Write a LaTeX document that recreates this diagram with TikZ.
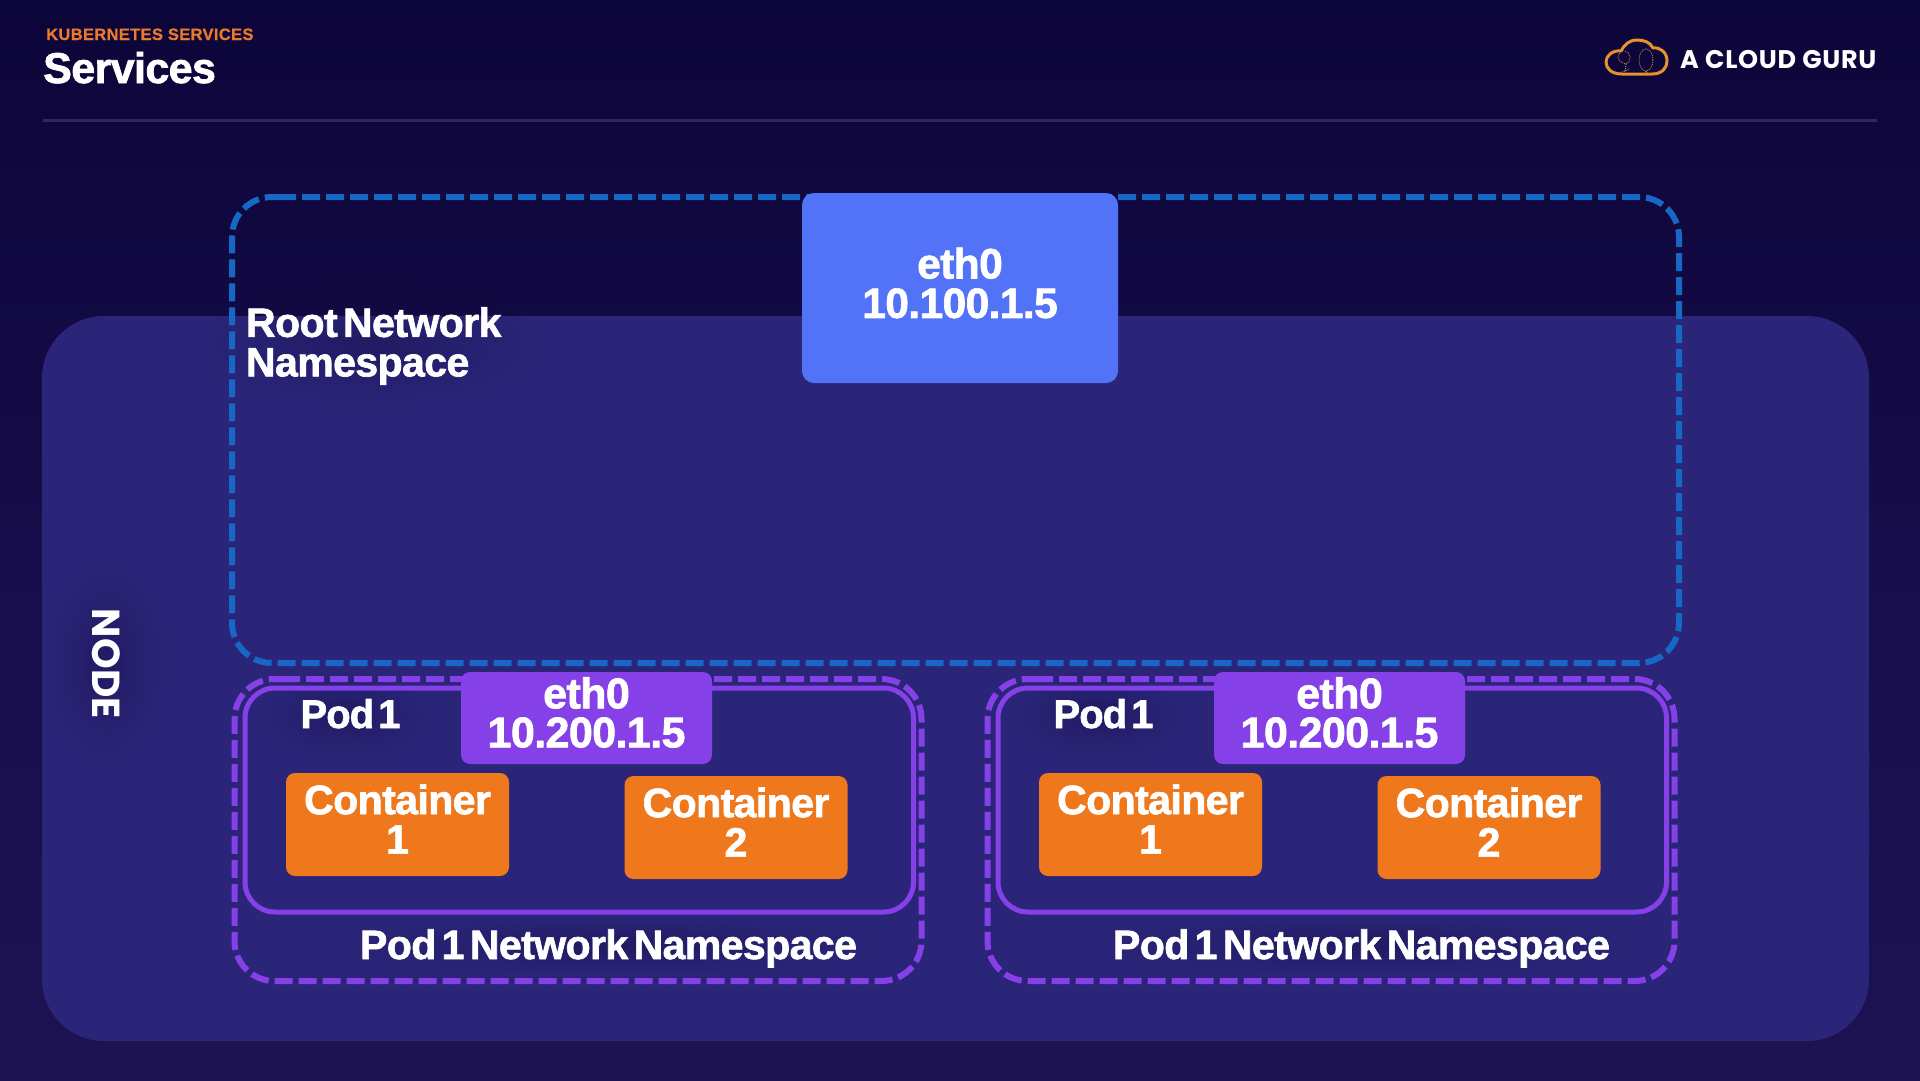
\documentclass[tikz,border=0pt]{standalone}
\usepackage{fontspec}
\setmainfont{Liberation Sans}
\newfontfamily\lab[WordSpace=0.5,LetterSpace=-1.4,BoldFeatures={FakeBold=1.6}]{Liberation Sans}
\newfontfamily\podfont[WordSpace=0.4,LetterSpace=-2.4,BoldFeatures={FakeBold=1.6}]{Liberation Sans}
\newfontfamily\head[LetterSpace=2.1,BoldFeatures={FakeBold=0.6}]{Liberation Sans}
\newfontfamily\brand[LetterSpace=2.8]{Poppins}
\newfontfamily\nodefont[LetterSpace=1.2]{Poppins}
\usetikzlibrary{fadings}
\tikzfading[name=softglow,inner color=transparent!0,outer color=transparent!100]
\definecolor{bgtop}{HTML}{0C0539}
\definecolor{bgmid}{HTML}{170D4A}
\definecolor{bgbot}{HTML}{1D1353}
\definecolor{nodefill}{HTML}{2A2578}
\definecolor{rootblue}{HTML}{1767C5}
\definecolor{podpurple}{HTML}{8540E8}
\definecolor{contorange}{HTML}{EE781B}
\definecolor{ethblue}{HTML}{5273F7}
\definecolor{rulec}{HTML}{2E2862}
\definecolor{headorange}{HTML}{EC7A2B}
\definecolor{logoorange}{HTML}{E8912D}
\definecolor{glowc}{HTML}{12093F}
\tikzset{
  x=1pt,y=-1pt,
  box/.style={rectangle,inner sep=0pt,outer sep=0pt,rounded corners=9pt},
  txt/.style={text=white,inner sep=0pt,outer sep=0pt,align=center,font=\lab\bfseries\fontsize{41pt}{39.5pt}\selectfont},
  ethtxt/.style={txt,font=\lab\bfseries\fontsize{43pt}{39pt}\selectfont},
  rootdash/.style={draw=rootblue,line width=6pt,dash pattern=on 18pt off 6pt,rounded corners=40pt},
  poddash/.style={draw=podpurple,line width=6pt,dash pattern=on 18pt off 6pt,rounded corners=40pt},
  podline/.style={draw=podpurple,line width=5pt,rounded corners=30pt},
  glow/.style={fill=glowc,path fading=softglow,opacity=.35},
}
\newcommand{\podgroup}[2]{%
  \begin{scope}[xshift=#2pt]
    \fill[glow] (345,715) ellipse (85 and 45);
    \fill[glow] (610,945) ellipse (270 and 30);
    \draw[poddash] (282,679) -- (921.5,679) -- (921.5,981) -- (234.5,981) -- (234.5,679) -- (282,679);
    \draw[podline] (245,688) rectangle (913.5,912);
    \node[box,fill=podpurple,minimum width=251pt,minimum height=92pt] (eth#1) at (586.5,718) {};
    \node[ethtxt,anchor=center] (ethl#1) at (586.5,712.5) {eth0\\10.200.1.5};
    \node[box,fill=contorange,minimum width=223pt,minimum height=103pt] (ca#1) at (397.5,824.5) {};
    \node[txt,anchor=center] (cal#1) at (397.5,819) {Container\\1};
    \node[box,fill=contorange,minimum width=223pt,minimum height=103pt] (cb#1) at (736,827.5) {};
    \node[txt,anchor=center] (cbl#1) at (736,822) {Container\\2};
    \node[txt,anchor=base west,font=\podfont\bfseries\fontsize{40pt}{40pt}\selectfont] (pod#1) at (300.5,728) {Pod 1};
    \node[txt,anchor=base west] (ns#1) at (360,959) {Pod 1 Network Namespace};
  \end{scope}}
\begin{document}
\begin{tikzpicture}
\useasboundingbox (0,0) rectangle (1920,1080);
\shade[top color=bgtop,bottom color=bgbot,middle color=bgmid] (0,0) rectangle (1920,1080);
% header
\node[anchor=base west,inner sep=0pt,text=headorange,font=\head\bfseries\fontsize{16.5pt}{18pt}\selectfont] (kicker) at (46,40) {KUBERNETES SERVICES};
\node[anchor=base west,inner sep=0pt,text=white,font=\lab\bfseries\fontsize{43pt}{46pt}\selectfont] (title) at (43,83) {Services};
\coordinate (rulea) at (43,120);
\coordinate (ruleb) at (1877,120);
\draw[rulec,line width=3pt] (rulea) -- (ruleb);
% logo
\draw[logoorange,line width=3pt,line join=round] (1622,74) -- (1652,74)
  .. controls (1662,74) and (1667,68) .. (1667,61)
  .. controls (1667,53) and (1661,47) .. (1653,48)
  .. controls (1650,42) and (1644,40) .. (1637,40)
  .. controls (1629,40) and (1624,45) .. (1621,51)
  .. controls (1612,50) and (1606,56) .. (1606,62)
  .. controls (1606,69) and (1612,74) .. (1622,74) -- cycle;
\draw[logoorange!70!nodefill,line width=1pt,densely dotted] (1646,60) ellipse (7 and 11);
\draw[logoorange!70!nodefill,line width=1pt,densely dotted] (1646,71) -- (1644,74) (1646,71) -- (1649,74);
\draw[logoorange!70!nodefill,line width=1pt,densely dotted] (1620,53) .. controls (1615,58) and (1620,63) .. (1626,64) .. controls (1632,62) and (1631,52) .. (1625,51) (1626,64) -- (1625,72) (1622,72) -- (1630,69);
\node[anchor=base west,inner sep=0pt,text=white,font=\brand\bfseries\fontsize{25.5pt}{27pt}\selectfont] (brand) at (1680,68) {A CLOUD GURU};
% node panel
\node[box,rounded corners=62pt,fill=nodefill,minimum width=1827pt,minimum height=725pt] (panel) at (955.5,678.5) {};
\fill[glow] (105,662) ellipse (60 and 100);
\fill[glow] (370,345) ellipse (170 and 60);
\node[anchor=base west,inner sep=0pt,rotate=-90,text=white,font=\nodefont\bfseries\fontsize{39pt}{41pt}\selectfont] (nodelabel) at (92.5,608) {NODE};
% root namespace
\draw[rootdash] (278,197) -- (1679,197) -- (1679,663) -- (232,663) -- (232,197) -- (278,197);
\node[box,rounded corners=12pt,fill=ethblue,minimum width=316pt,minimum height=190pt] (rooteth) at (960,288) {};
\node[ethtxt,anchor=center,font=\lab\bfseries\fontsize{42.5pt}{39.5pt}\selectfont] (rootethl) at (960,283) {eth0\\10.100.1.5};
\node[txt,align=left,anchor=west] (rootlabel) at (246,346) {Root Network\\Namespace};
% pods
\podgroup{a}{0}
\podgroup{b}{753}
\end{tikzpicture}
\end{document}
